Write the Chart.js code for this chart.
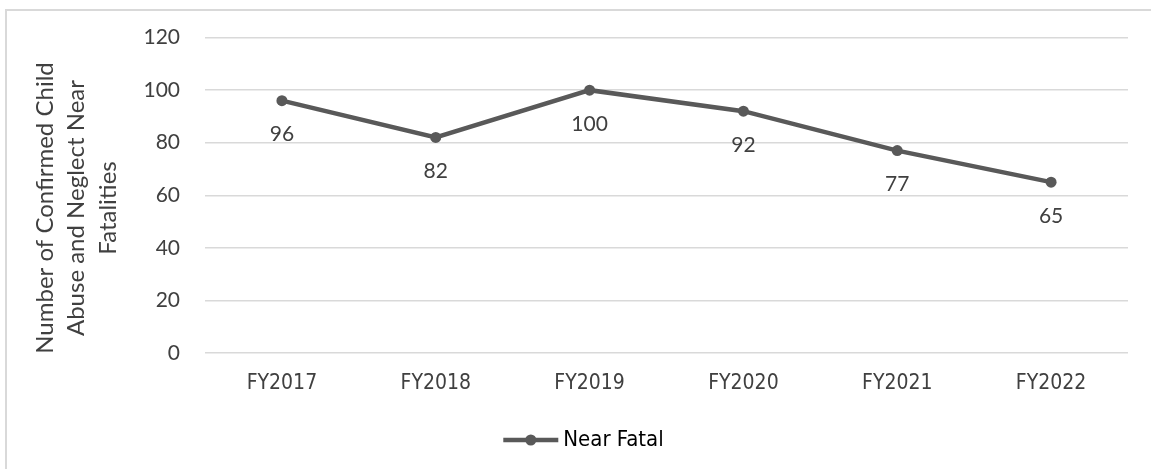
<!DOCTYPE html>
<html>
<head>
<meta charset="utf-8">
<script src="https://cdn.jsdelivr.net/npm/chart.js@4.4.1/dist/chart.umd.min.js"></script>
<style>
  html, body { margin: 0; padding: 0; background: #fff; }
  body { width: 1151px; height: 469px; position: relative; overflow: hidden; }
  #frame {
    position: absolute; left: 5px; top: 9px; width: 1200px; height: 500px;
    border-left: 2px solid #d9d9d9; border-top: 2px solid #d9d9d9;
  }
  #mainCanvas { position: absolute; left: 0; top: 0; }
</style>
</head>
<body>
<div id="frame"></div>
<canvas id="mainCanvas" width="1151" height="469"></canvas>
<script>
/* ===== data ===== */
const YEARS  = ['FY2017', 'FY2018', 'FY2019', 'FY2020', 'FY2021', 'FY2022'];
const NEAR_FATAL = [96, 82, 100, 92, 77, 65];
const SERIES_NAME = 'Near Fatal';
const Y_TITLE = ['Number of Confirmed Child', 'Abuse and Neglect Near', 'Fatalities'];

/* ===== style ===== */
const LINE_COLOR = '#595959';
const GRID_COLOR = '#d9d9d9';
const TEXT_COLOR = '#404040';
const NUM_FONT   = 'Lato, "Open Sans", sans-serif';
const CAT_FONT   = '"DejaVu Sans Condensed", "DejaVu Sans", sans-serif';
const LEGEND_LINE = 55;   // legend sample length
const LEGEND_SHIFT = 19.5; // legend sits a bit right of centre

// value under each point
const valueLabelPlugin = {
  id: 'valueLabel',
  afterDatasetsDraw(chart) {
    const { ctx } = chart;
    const meta = chart.getDatasetMeta(0);
    const data = chart.data.datasets[0].data;
    ctx.save();
    ctx.font = `21px ${NUM_FONT}`;
    ctx.fillStyle = TEXT_COLOR;
    ctx.textAlign = 'center';
    ctx.textBaseline = 'middle';
    meta.data.forEach((pt, i) => ctx.fillText(String(data[i]), pt.x, pt.y + 34));
    ctx.restore();
  }
};

// rotated y title (3 lines)
const yTitlePlugin = {
  id: 'yTitle',
  afterDraw(chart) {
    const { ctx } = chart;
    ctx.save();
    ctx.font = `24px ${NUM_FONT}`;
    ctx.fillStyle = TEXT_COLOR;
    ctx.textAlign = 'center';
    ctx.textBaseline = 'middle';
    ctx.translate(45, 208);
    ctx.rotate(-Math.PI / 2);
    Y_TITLE.forEach((t, i) => ctx.fillText(t, 0, i * 31.6));
    ctx.restore();
  }
};

// legend: shift right, then draw line + circle sample
const legendMarkerPlugin = {
  id: 'legendMarker',
  afterLayout(chart) {
    const lg = chart.legend;
    if (!lg) return;
    lg.left += LEGEND_SHIFT;
    lg.right += LEGEND_SHIFT;
  },
  afterDraw(chart) {
    const lg = chart.legend;
    if (!lg) return;
    const pad = lg.options.labels.padding;
    const x0 = (lg.left + lg.right) / 2 - lg.lineWidths[0] / 2 + pad / 2;
    const cy = lg.top + lg.height / 2;
    const { ctx } = chart;
    ctx.save();
    ctx.strokeStyle = LINE_COLOR;
    ctx.lineWidth = 4.5;
    ctx.beginPath();
    ctx.moveTo(x0, cy);
    ctx.lineTo(x0 + LEGEND_LINE, cy);
    ctx.stroke();
    ctx.fillStyle = LINE_COLOR;
    ctx.beginPath();
    ctx.arc(x0 + LEGEND_LINE / 2, cy, 5.5, 0, Math.PI * 2);
    ctx.fill();
    ctx.restore();
  }
};

const ctx = document.getElementById('mainCanvas').getContext('2d');
new Chart(ctx, {
  type: 'line',
  data: {
    labels: YEARS,
    datasets: [{
      label: SERIES_NAME,
      data: NEAR_FATAL,
      borderColor: LINE_COLOR,
      backgroundColor: LINE_COLOR,
      borderWidth: 4.5,
      pointRadius: 5.5,
      pointBackgroundColor: LINE_COLOR,
      pointBorderWidth: 0,
      tension: 0
    }]
  },
  options: {
    responsive: false,
    animation: false,
    layout: { padding: { top: 37, right: 23, bottom: 8, left: 0 } },
    scales: {
      x: {
        offset: true,
        grid: { display: false, drawTicks: false },
        border: { display: false },
        ticks: { font: { family: CAT_FONT, size: 21 }, color: TEXT_COLOR, padding: 18, maxRotation: 0 },
        afterFit(s) { s.height = 66; }
      },
      y: {
        min: 0, max: 120,
        grid: { color: GRID_COLOR, lineWidth: 1.5, drawTicks: false },
        border: { display: false },
        ticks: { stepSize: 20, font: { family: NUM_FONT, size: 21 }, color: TEXT_COLOR, padding: 25 },
        afterFit(s) { s.width = 205; }
      }
    },
    plugins: {
      legend: {
        position: 'bottom',
        labels: {
          font: { family: CAT_FONT, size: 22 },
          color: TEXT_COLOR,
          boxWidth: 49,
          boxHeight: 5,
          generateLabels(chart) {
            return [{ text: SERIES_NAME, fillStyle: 'rgba(0,0,0,0)', strokeStyle: 'rgba(0,0,0,0)', lineWidth: 0, datasetIndex: 0 }];
          }
        }
      },
      tooltip: { enabled: false }
    }
  },
  plugins: [valueLabelPlugin, yTitlePlugin, legendMarkerPlugin]
});
</script>
</body>
</html>
